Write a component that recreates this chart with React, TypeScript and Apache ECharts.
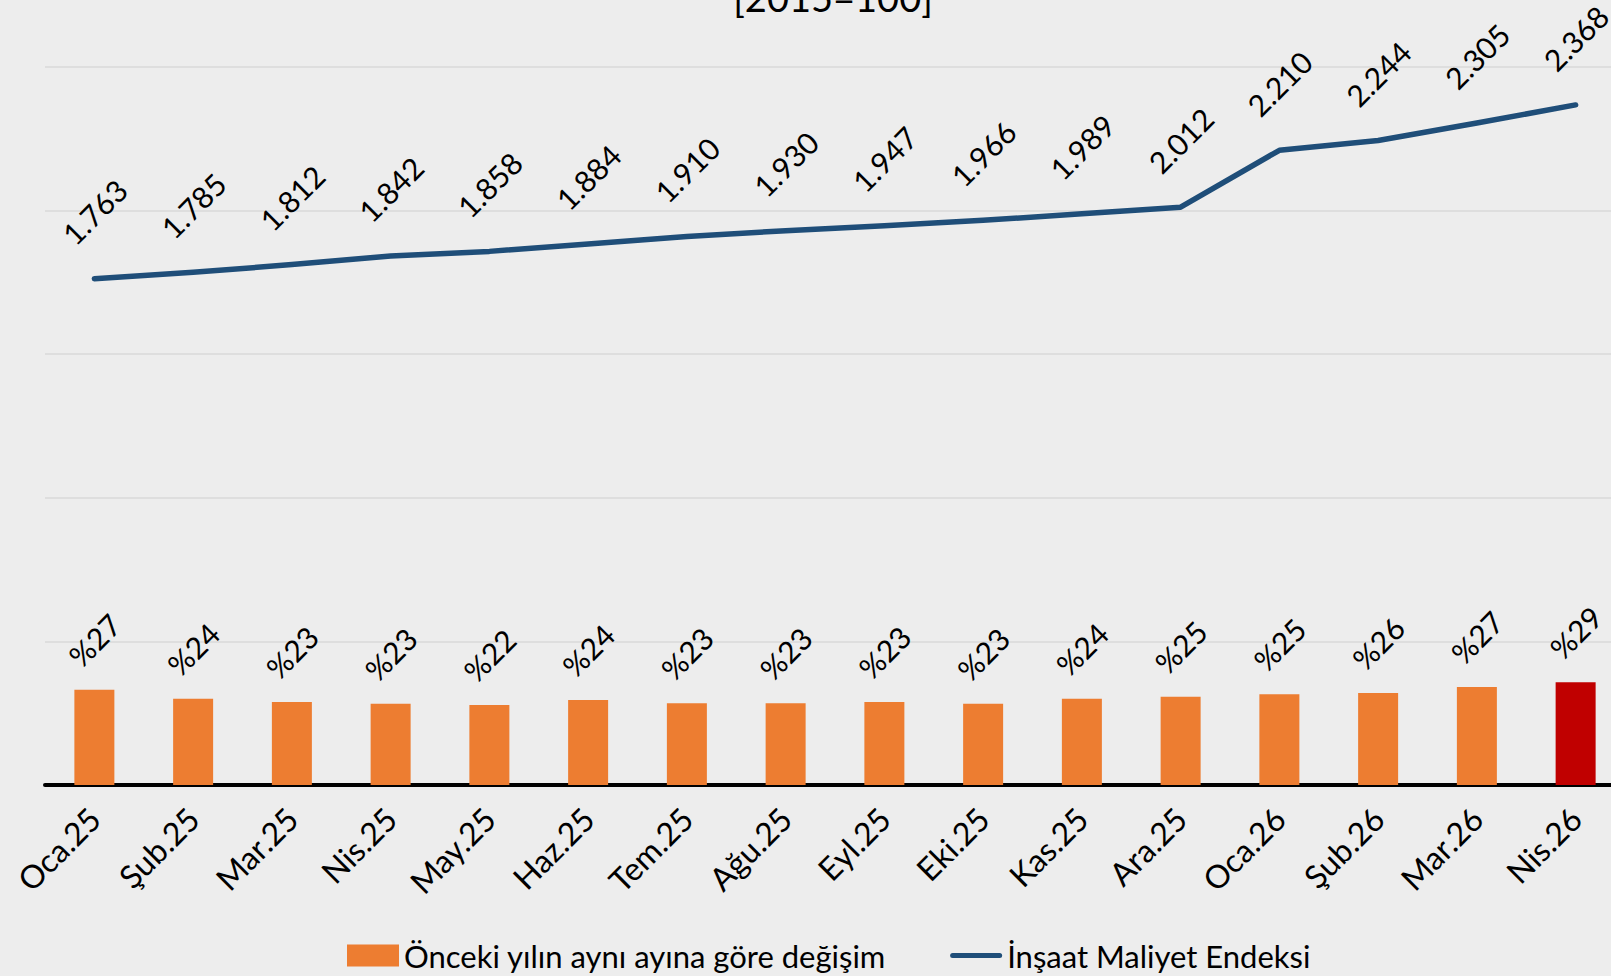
import React, { useEffect, useRef } from 'react';
import * as echarts from 'echarts';

const categories = ['Oca.25', 'Şub.25', 'Mar.25', 'Nis.25', 'May.25', 'Haz.25', 'Tem.25', 'Ağu.25', 'Eyl.25', 'Eki.25', 'Kas.25', 'Ara.25', 'Oca.26', 'Şub.26', 'Mar.26', 'Nis.26'];
const changePct = [26.5, 24.0, 23.1, 22.6, 22.3, 23.7, 22.8, 22.8, 23.1, 22.6, 24.0, 24.6, 25.3, 25.6, 27.3, 28.6];
const indexValues = [1763, 1785, 1812, 1842, 1858, 1884, 1910, 1930, 1947, 1966, 1989, 2012, 2210, 2244, 2305, 2368];
const barName = 'Önceki yılın aynı ayına göre değişim';
const lineName = 'İnşaat Maliyet Endeksi';
const titleText = '[2015=100]';
const highlightIndex = 15;

const FONT = 'Lato';
const LINE_COLOR = '#1F4E79';

function fmtThousands(v: number): string {
  return String(v).replace(/\B(?=(\d{3})+(?!\d))/g, '.');
}

export default function App() {
  const ref = useRef<HTMLDivElement>(null);
  useEffect(() => {
    if (!ref.current) return;
    const chart = echarts.init(ref.current, undefined, { renderer: 'svg' });
    chart.setOption({
      animation: false,
      backgroundColor: '#EDEDED',
      textStyle: { fontFamily: FONT },
      graphic: [
        {
          type: 'text',
          x: 833,
          y: -3,
          style: {
            text: titleText,
            fontFamily: FONT,
            fontSize: 38,
            fill: '#000',
            textAlign: 'center',
            textVerticalAlign: 'middle',
          },
        },
      ],
      legend: {
        left: 342,
        top: 935,
        itemWidth: 52,
        itemHeight: 22,
        itemGap: 64,
        textStyle: { fontFamily: FONT, fontSize: 31, color: '#000' },
        data: [
          { name: barName, icon: 'rect' },
          {
            name: lineName,
            icon: 'path://M2.5,0 L49.5,0 A2.5,2.5 0 0 1 49.5,5 L2.5,5 A2.5,2.5 0 0 1 2.5,0 Z',
          },
        ],
      },
      grid: {
        left: 45,
        width: 1580,
        top: 67,
        height: 718,
        containLabel: false,
        outerBoundsMode: 'none',
      },
      xAxis: {
        type: 'category',
        data: categories,
        boundaryGap: true,
        axisLine: { show: true, lineStyle: { color: '#000', width: 4 } },
        axisTick: { show: false },
        axisLabel: {
          rotate: 45,
          margin: 28,
          interval: 0,
          fontFamily: FONT,
          fontSize: 32,
          color: '#000',
        },
      },
      yAxis: [
        {
          type: 'value',
          min: 0,
          max: 200,
          interval: 40,
          axisLabel: { show: false },
          axisLine: { show: false },
          axisTick: { show: false },
          splitLine: { show: true, lineStyle: { color: '#D9D9D9', width: 1.5 } },
        },
        {
          type: 'value',
          min: 0,
          max: 2500,
          interval: 500,
          axisLabel: { show: false },
          axisLine: { show: false },
          axisTick: { show: false },
          splitLine: { show: false },
        },
      ],
      series: [
        {
          name: barName,
          type: 'bar',
          yAxisIndex: 0,
          barWidth: 40,
          itemStyle: { color: '#ED7D31' },
          data: changePct.map((v, i) =>
            i === highlightIndex ? { value: v, itemStyle: { color: '#C00000' } } : v
          ),
          label: {
            show: true,
            position: 'top',
            distance: 50,
            rotate: 45,
            align: 'center',
            verticalAlign: 'middle',
            fontFamily: FONT,
            fontSize: 30,
            color: '#000',
            formatter: (p: any) => '%' + Math.round(p.value),
          },
          z: 2,
        },
        {
          name: lineName,
          type: 'line',
          yAxisIndex: 1,
          data: indexValues,
          symbol: 'circle',
          symbolSize: 2,
          showSymbol: true,
          showAllSymbol: true,
          lineStyle: { color: LINE_COLOR, width: 5.5, cap: 'round', join: 'round' },
          itemStyle: { color: LINE_COLOR },
          label: {
            show: true,
            position: 'top',
            distance: 66,
            rotate: 45,
            align: 'center',
            verticalAlign: 'middle',
            fontFamily: FONT,
            fontSize: 30,
            color: '#000',
            formatter: (p: any) => fmtThousands(p.value),
          },
          z: 3,
        },
      ],
    });
    return () => chart.dispose();
  }, []);
  return (
    <div
      ref={ref}
      style={{ position: 'fixed', left: 0, top: 0, width: '1611px', height: '976px' }}
    />
  );
}
